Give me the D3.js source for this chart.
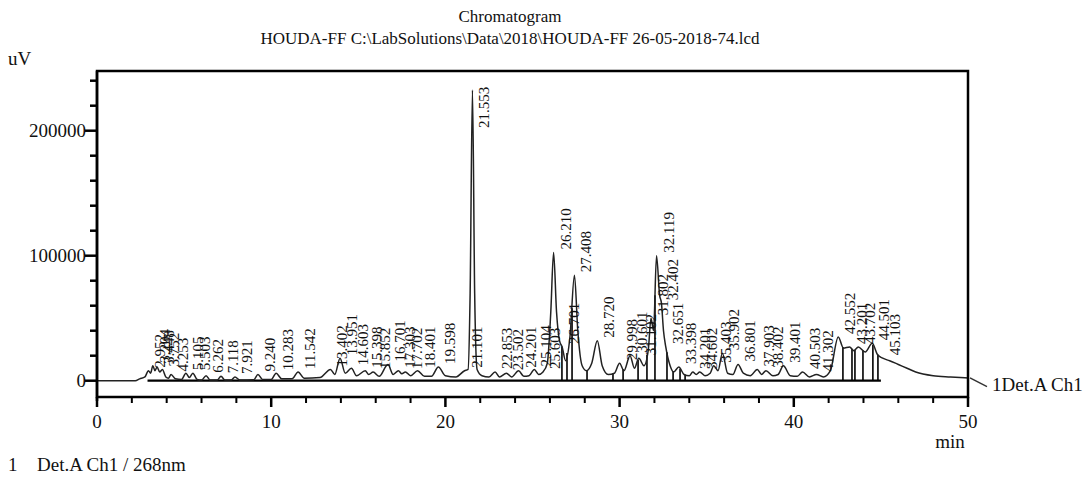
<!DOCTYPE html>
<html>
<head>
<meta charset="utf-8">
<script src="https://cdn.jsdelivr.net/npm/d3@7"></script>
<style>
  html, body { margin: 0; padding: 0; background: #fff; }
  svg { display: block; }
  text { font-family: "Liberation Serif", "Times New Roman", serif; fill: #111; }
</style>
</head>
<body>
<div id="chart"></div>
<script>
// ---- data ----
const titleText = "Chromatogram";
const subtitleText = "HOUDA-FF C:\\LabSolutions\\Data\\2018\\HOUDA-FF 26-05-2018-74.lcd";
const yUnit = "uV";
const xUnit = "min";
const channelLabel = "1Det.A Ch1";
const footNumber = "1";
const footText = "Det.A Ch1 / 268nm";

const xTickValues = [0, 10, 20, 30, 40, 50];
const xMinorTicks = [2, 4, 6, 8, 12, 14, 16, 18, 22, 24, 26, 28, 32, 34, 36, 38, 42, 44, 46, 48];
const yTickValues = [0, 100000, 200000];
const yMinorTicks = [20000, 40000, 60000, 80000, 120000, 140000, 160000, 180000, 220000, 240000];

// chromatogram trace: retention time (min) and signal (uV)
const traceTime = [0, 2.2, 2.45, 2.75, 2.952, 3.08, 3.204, 3.33, 3.448, 3.6, 3.752, 3.95, 4.1, 4.253, 4.5, 4.85,
  5.105, 5.3, 5.503, 5.75, 6.0, 6.262, 6.5, 6.9, 7.118, 7.35, 7.7, 7.921, 8.2, 9.0, 9.24, 9.5, 10.0, 10.283, 10.6,
  11.2, 11.542, 11.9, 12.8, 13.402, 13.65, 13.951, 14.25, 14.603, 14.9, 15.398, 15.6, 15.852, 16.2, 16.701, 17.0,
  17.303, 17.5, 17.702, 18.0, 18.401, 18.8, 19.2, 19.598, 20.0, 20.6, 21.101, 21.3, 21.42, 21.553, 21.68, 21.82,
  22.1, 22.5, 22.853, 23.1, 23.502, 23.8, 24.201, 24.5, 24.8, 25.104, 25.35, 25.603, 25.85, 26.05, 26.21, 26.38,
  26.55, 26.701, 26.9, 27.15, 27.408, 27.6, 27.85, 28.1, 28.4, 28.72, 29.0, 29.35, 29.7, 29.998, 30.25, 30.601,
  30.85, 31.102, 31.4, 31.65, 31.802, 31.95, 32.119, 32.3, 32.402, 32.52, 32.651, 32.9, 33.1, 33.398, 33.7, 34.0,
  34.201, 34.4, 34.602, 34.9, 35.2, 35.403, 35.65, 35.902, 36.2, 36.5, 36.801, 37.1, 37.5, 37.903, 38.15, 38.402,
  38.8, 39.1, 39.401, 39.8, 40.2, 40.503, 40.9, 41.302, 41.7, 42.1, 42.552, 42.85, 43.201, 43.45, 43.702, 44.1,
  44.501, 44.8, 45.103, 45.5, 46.0, 46.5, 47.0, 48.0, 49.0, 50.0];
const traceSignal = [0, 0, 1500, 3000, 8000, 6000, 12000, 8000, 11000, 7000, 9000, 3000, 2000, 5000, 1500, 1000,
  6000, 2500, 6000, 1000, 500, 4000, 500, 500, 3500, 500, 500, 3000, 500, 800, 5000, 1000, 1000, 6000, 1500,
  1500, 7000, 2000, 2500, 9000, 5000, 18000, 6000, 10000, 4000, 8000, 5000, 7000, 3500, 13000, 5000,
  8000, 5500, 7000, 4000, 8000, 3500, 3500, 11000, 4000, 3000, 8000, 9000, 70000, 232500, 70000, 9000,
  4000, 3000, 7000, 3000, 6000, 3000, 8000, 3500, 4000, 9000, 5000, 7000, 14000, 55000, 102600, 55000,
  32000, 27000, 16000, 35000, 84400, 40000, 12000, 8000, 14000, 32000, 12000, 5000, 6000, 14000, 8000, 20000,
  10000, 18000, 12000, 25000, 50000, 40000, 100000, 68000, 62000, 40000, 27000, 12000, 7000, 11000, 5000, 4000,
  7000, 5000, 7000, 4000, 6000, 12000, 8000, 22000, 6000, 5000, 13000, 6000, 4000, 9000, 5000, 8000,
  4000, 5000, 12000, 4000, 3500, 7000, 3000, 5000, 3000, 8000, 35000, 26000, 27000, 24000, 27000, 23000,
  30000, 21000, 18000, 16000, 13000, 10000, 7000, 4000, 3000, 2200];

// labelled peak retention times (min)
const peakTimes = [2.952, 3.204, 3.448, 3.752, 4.253, 5.105, 5.503, 6.262, 7.118, 7.921, 9.240, 10.283, 11.542,
  13.402, 13.951, 14.603, 15.398, 15.852, 16.701, 17.303, 17.702, 18.401, 19.598, 21.101, 21.553, 22.853, 23.502,
  24.201, 25.104, 25.603, 26.210, 26.701, 27.408, 28.720, 29.998, 30.601, 31.102, 31.802, 32.119, 32.402, 32.651,
  33.398, 34.201, 34.602, 35.403, 35.902, 36.801, 37.903, 38.402, 39.401, 40.503, 41.302, 42.552, 43.201, 43.702,
  44.501, 45.103];

// integration drop lines (min) and integration baseline range (min)
const dropTimes = [26.69, 26.98, 27.27, 28.13, 29.62, 30.2, 31.06, 31.57, 32.03, 32.72, 33.07, 33.47, 33.76,
  42.82, 43.34, 43.51, 43.97, 44.54, 44.83];
const baselineRange = [2.9, 45.0];

// ---- layout ----
const W = 1089, H = 477;
const plot = { left: 97, right: 968, top: 71, bottom: 397 };

const svg = d3.select("#chart").append("svg").attr("width", W).attr("height", H);

const x = d3.scaleLinear().domain([0, 50]).range([plot.left, plot.right]);
const y = d3.scaleLinear().domain([-13040, 247760]).range([plot.bottom, plot.top]);

const trace = traceTime.map((t, i) => ({ t, v: traceSignal[i] }));
const bis = d3.bisector(d => d.t).left;
function valueAt(t) {
  const i = bis(trace, t);
  if (i <= 0) return trace[0].v;
  if (i >= trace.length) return trace[trace.length - 1].v;
  const a = trace[i - 1], b = trace[i];
  return a.v + (b.v - a.v) * (t - a.t) / (b.t - a.t);
}

// titles
svg.append("text").attr("x", 510).attr("y", 22).attr("text-anchor", "middle")
  .style("font-size", "17px").text(titleText);
svg.append("text").attr("x", 510).attr("y", 44).attr("text-anchor", "middle")
  .style("font-size", "17px").text(subtitleText);

// y unit
svg.append("text").attr("x", 8).attr("y", 65).style("font-size", "19px").text(yUnit);

// integration baseline
svg.append("line")
  .attr("x1", x(baselineRange[0])).attr("x2", x(baselineRange[1]))
  .attr("y1", y(0)).attr("y2", y(0))
  .attr("stroke", "#000").attr("stroke-width", 2.2);

// drop lines
svg.append("g").selectAll("line").data(dropTimes).join("line")
  .attr("x1", d => x(d)).attr("x2", d => x(d))
  .attr("y1", y(0)).attr("y2", d => y(valueAt(d)))
  .attr("stroke", "#000").attr("stroke-width", 1.6);

// trace
const line = d3.line().x(d => x(d.t)).y(d => y(d.v)).curve(d3.curveMonotoneX);
svg.append("path").datum(trace).attr("d", line)
  .attr("fill", "none").attr("stroke", "#222").attr("stroke-width", 1.5);

// peak labels (vertical, reading bottom to top, anchored at the apex)
const labelLen = 42;
svg.append("g").selectAll("text").data(peakTimes).join("text")
  .attr("transform", d => {
    let ay = y(valueAt(d)) - 3;
    if (ay - labelLen < plot.top + 15) ay = plot.top + 15 + labelLen;
    return `translate(${x(d) + 17},${ay}) rotate(-90)`;
  })
  .style("font-size", "15px")
  .text(d => d.toFixed(3));

// frame
svg.append("rect").attr("x", plot.left).attr("y", plot.top)
  .attr("width", plot.right - plot.left).attr("height", plot.bottom - plot.top)
  .attr("fill", "none").attr("stroke", "#000").attr("stroke-width", 2.5);
svg.append("line").attr("x1", plot.left).attr("x2", plot.left)
  .attr("y1", plot.top).attr("y2", plot.bottom + 4)
  .attr("stroke", "#000").attr("stroke-width", 2.5);

// y axis ticks
const gy = svg.append("g");
gy.selectAll("line.major").data(yTickValues).join("line").attr("class", "major")
  .attr("x1", plot.left - 12).attr("x2", plot.left).attr("y1", d => y(d)).attr("y2", d => y(d))
  .attr("stroke", "#000").attr("stroke-width", 2.5);
gy.selectAll("line.minor").data(yMinorTicks).join("line").attr("class", "minor")
  .attr("x1", plot.left - 7).attr("x2", plot.left).attr("y1", d => y(d)).attr("y2", d => y(d))
  .attr("stroke", "#000").attr("stroke-width", 2.5);
gy.selectAll("text").data(yTickValues).join("text")
  .attr("x", plot.left - 11).attr("y", d => y(d) + 6).attr("text-anchor", "end")
  .style("font-size", "19px").text(d => d3.format("d")(d));

// x axis ticks
const gx = svg.append("g");
gx.selectAll("line.major").data(xTickValues).join("line").attr("class", "major")
  .attr("x1", d => x(d)).attr("x2", d => x(d)).attr("y1", plot.bottom).attr("y2", plot.bottom + 10)
  .attr("stroke", "#000").attr("stroke-width", 2.5);
gx.selectAll("line.minor").data(xMinorTicks).join("line").attr("class", "minor")
  .attr("x1", d => x(d)).attr("x2", d => x(d)).attr("y1", plot.bottom).attr("y2", plot.bottom + 6)
  .attr("stroke", "#000").attr("stroke-width", 2);
gx.selectAll("text").data(xTickValues).join("text")
  .attr("x", d => x(d)).attr("y", 428).attr("text-anchor", "middle")
  .style("font-size", "19px").text(d => d);

svg.append("text").attr("x", 950).attr("y", 448).attr("text-anchor", "middle")
  .style("font-size", "19px").text(xUnit);

// channel label at right
svg.append("line").attr("x1", plot.right + 2).attr("y1", y(valueAt(50)))
  .attr("x2", plot.right + 19).attr("y2", y(0) + 6)
  .attr("stroke", "#333").attr("stroke-width", 1.5);
svg.append("text").attr("x", 992).attr("y", 391).style("font-size", "19px").text(channelLabel);

// footnote
svg.append("text").attr("x", 8).attr("y", 471).style("font-size", "19px").text(footNumber);
svg.append("text").attr("x", 37).attr("y", 471).style("font-size", "19px").text(footText);
</script>
</body>
</html>
